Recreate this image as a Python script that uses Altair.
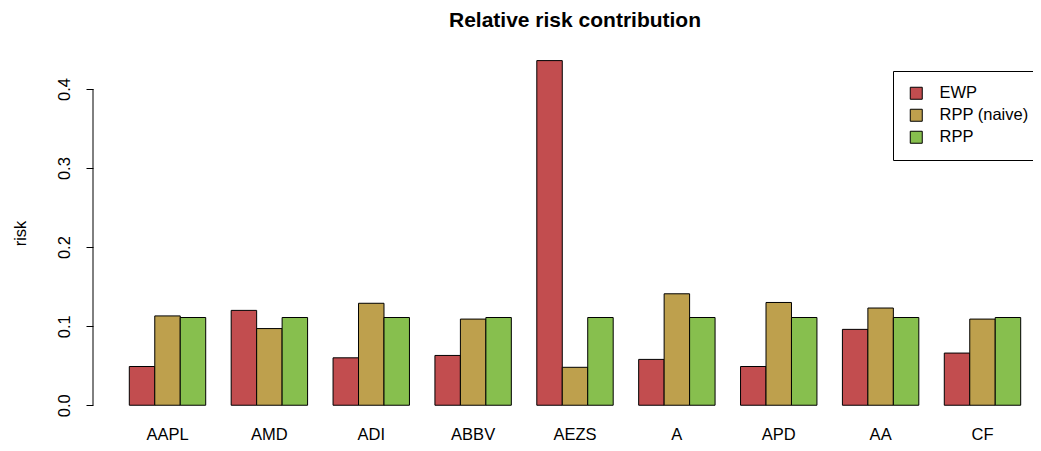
import altair as alt
import pandas as pd

tickers = ["AAPL", "AMD", "ADI", "ABBV", "AEZS", "A", "APD", "AA", "CF"]
methods = ["EWP", "RPP (naive)", "RPP"]
ewp = [0.049, 0.120, 0.060, 0.063, 0.436, 0.058, 0.049, 0.096, 0.066]
rpp_naive = [0.113, 0.097, 0.129, 0.109, 0.048, 0.141, 0.130, 0.123, 0.109]
rpp = [0.111, 0.111, 0.111, 0.111, 0.111, 0.111, 0.111, 0.111, 0.111]
colors = ["#C24D4F", "#BEA04D", "#87BF4E"]
y_ticks = [0.0, 0.1, 0.2, 0.3, 0.4]

rows = []
for i, t in enumerate(tickers):
    for m, vals in zip(methods, [ewp, rpp_naive, rpp]):
        rows.append({"ticker": t, "method": m, "value": vals[i]})
df = pd.DataFrame(rows)

FONT = "Liberation Sans"

yscale = alt.Scale(domain=[-0.0174, 0.4532], nice=False, zero=False)

bars = alt.Chart(df).mark_bar(stroke="black", strokeWidth=1, opacity=1).encode(
    x=alt.X(
        "ticker:N",
        sort=tickers,
        scale=alt.Scale(range=[0, 964], paddingInner=0.25, paddingOuter=0.3563,
                        round=False),
        axis=alt.Axis(
            title=None, domain=False, ticks=False, labelAngle=0,
            labelFontSize=16.5, labelFont=FONT, labelColor="black",
            labelPadding=7,
        ),
    ),
    xOffset=alt.XOffset("method:N", sort=methods,
                        scale=alt.Scale(paddingInner=0, paddingOuter=0, round=False)),
    y=alt.Y(
        "value:Q",
        scale=yscale,
        axis=alt.Axis(
            title="risk", values=y_ticks, format=".1f", grid=False,
            domain=False, ticks=True, tickColor="black", tickSize=7,
            labelAngle=270, labelAlign="center", labelBaseline="bottom",
            labelFontSize=16.5, labelFont=FONT, labelColor="black",
            labelPadding=14,
            titleFont=FONT, titleFontSize=16.5, titleFontWeight="normal",
            titleColor="black", titlePadding=28,
        ),
    ),
    y2=alt.datum(0),
    color=alt.Color(
        "method:N",
        sort=methods,
        scale=alt.Scale(domain=methods, range=colors),
        legend=alt.Legend(
            title=None, orient="none", legendX=800, legendY=24,
            strokeColor="black", fillColor="white", padding=14,
            symbolType="square", symbolSize=144, symbolStrokeColor="black",
            symbolStrokeWidth=1, symbolOffset=1, labelOffset=15,
            labelFontSize=16.5, labelFont=FONT, labelColor="black",
            rowPadding=5, symbolOpacity=1,
        ),
    ),
)

axis_line = alt.Chart(pd.DataFrame({"a": [0]})).mark_rule(color="black", strokeWidth=1).encode(
    x=alt.value(0),
    y=alt.datum(y_ticks[0]),
    y2=alt.datum(y_ticks[-1]),
)

chart = alt.layer(axis_line, bars).properties(
    width=940,
    height=372,
    background="white",
    title=alt.TitleParams(
        "Relative risk contribution", fontSize=21, fontWeight="bold",
        font=FONT, color="black", anchor="middle", dx=12, offset=16,
    ),
    autosize=alt.AutoSizeParams(type="none"),
    padding={"left": 85, "top": 39, "right": 0, "bottom": 24},
).configure_view(strokeWidth=0)

chart.save("out.html", embed_options={"renderer": "svg", "actions": False})
